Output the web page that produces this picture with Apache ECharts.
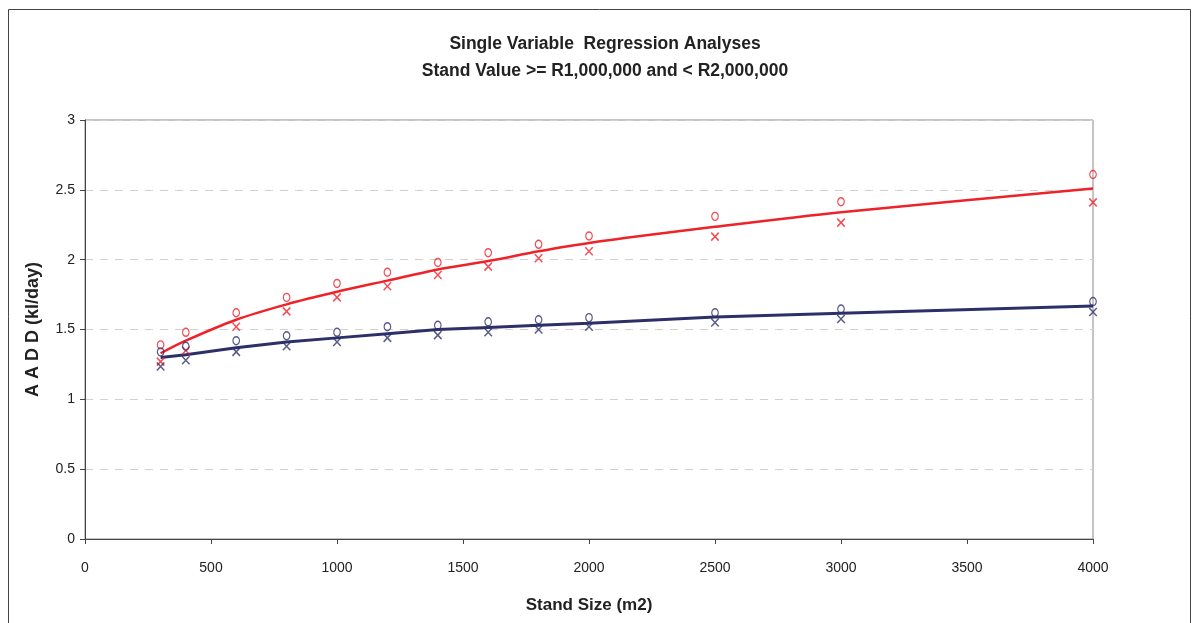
<!DOCTYPE html>
<html>
<head>
<meta charset="utf-8">
<script src="https://cdn.jsdelivr.net/npm/echarts@6/dist/echarts.min.js"></script>
<style>
html,body{margin:0;padding:0;background:#fff;}
#c{width:1196px;height:623px;}
</style>
</head>
<body>
<div id="c"></div>
<script>
// Data
var standSize = [300, 400, 600, 800, 1000, 1200, 1400, 1600, 1800, 2000, 2500, 3000, 4000];
var redO   = [1.39, 1.48, 1.62, 1.73, 1.83, 1.91, 1.98, 2.05, 2.11, 2.17, 2.31, 2.415, 2.61];
var redX   = [1.27, 1.35, 1.52, 1.63, 1.73, 1.81, 1.89, 1.95, 2.01, 2.06, 2.165, 2.265, 2.41];
var redFit = [1.33, 1.42, 1.57, 1.68, 1.77, 1.85, 1.93, 1.99, 2.06, 2.12, 2.235, 2.34, 2.51];
var navyO  = [1.34, 1.38, 1.42, 1.455, 1.48, 1.52, 1.53, 1.555, 1.57, 1.585, 1.62, 1.647, 1.70];
var navyX  = [1.235, 1.28, 1.34, 1.38, 1.41, 1.44, 1.46, 1.48, 1.50, 1.52, 1.55, 1.575, 1.625];
var navyFit= [1.30, 1.32, 1.37, 1.41, 1.44, 1.47, 1.50, 1.515, 1.53, 1.545, 1.59, 1.616, 1.668];
var xTicks = [0, 500, 1000, 1500, 2000, 2500, 3000, 3500, 4000];
var yTicks = [0, 0.5, 1, 1.5, 2, 2.5, 3];

var RED = '#ee2229';
var NAVY = '#2d3068';
var FONT = '"Liberation Sans", Arial, sans-serif';

function pairs(xs, ys){ return xs.map(function(x,i){ return [x, ys[i]]; }); }

var crossPath = 'path://M0,0L10,10M10,0L0,10';
var ringPath = 'path://M5,0A5,5 0 1 1 5,10A5,5 0 1 1 5,0Z';

var chart = echarts.init(document.getElementById('c'), null, {renderer:'canvas'});
chart.setOption({
  backgroundColor: '#fff',
  animation: false,
  title: {
    text: 'Single Variable  Regression Analyses\nStand Value >= R1,000,000 and < R2,000,000',
    left: 600, top: 26, textAlign: 'center',
    textStyle: {fontFamily: FONT, fontSize: 17.5, fontWeight: 'bold', color: '#222', lineHeight: 27}
  },
  graphic: [{
    type: 'rect', silent: true, z: 0,
    shape: {x: 8.5, y: 9.5, width: 1182, height: 700},
    style: {fill: 'none', stroke: '#444', lineWidth: 1}
  }],
  grid: {left: 85, right: 103, top: 120, bottom: 84, show: true, borderColor: '#8a8a8a', borderWidth: 1},
  xAxis: {
    type: 'value', min: 0, max: 4000, interval: 500,
    name: 'Stand Size (m2)', nameLocation: 'middle', nameGap: 58,
    nameTextStyle: {fontFamily: FONT, fontSize: 17, fontWeight: 'bold', color: '#222'},
    axisLine: {lineStyle: {color: '#444', width: 1}},
    axisTick: {show: true, length: 5, lineStyle: {color: '#444'}},
    axisLabel: {fontFamily: FONT, fontSize: 14, color: '#222', margin: 22,
      formatter: function(v){ return String(v); }},
    splitLine: {show: false}
  },
  yAxis: {
    type: 'value', min: 0, max: 3, interval: 0.5,
    name: 'A A D D (kl/day)', nameLocation: 'middle', nameGap: 43, nameRotate: 90,
    nameTextStyle: {fontFamily: FONT, fontSize: 18, fontWeight: 'bold', color: '#222'},
    axisLine: {show: true, lineStyle: {color: '#444', width: 1}},
    axisTick: {show: true, length: 5, lineStyle: {color: '#444'}},
    axisLabel: {fontFamily: FONT, fontSize: 14, color: '#222', margin: 10},
    splitLine: {show: true, lineStyle: {color: '#d4d0cc', type: [8, 7], width: 1}}
  },
  series: [
    {type: 'line', data: pairs(standSize, redFit), smooth: 0.3, symbol: 'none',
     lineStyle: {color: RED, width: 2.5}, z: 2},
    {type: 'line', data: pairs(standSize, navyFit), smooth: false, symbol: 'none',
     lineStyle: {color: NAVY, width: 3}, z: 2},
    {type: 'scatter', data: pairs(standSize, redO), symbol: ringPath, symbolSize: [6.5, 8],
     itemStyle: {color: 'rgba(0,0,0,0)', borderColor: RED, borderWidth: 1.3}, z: 3},
    {type: 'scatter', data: pairs(standSize, redX), symbol: crossPath, symbolSize: [7.5, 8],
     itemStyle: {color: 'rgba(0,0,0,0)', borderColor: RED, borderWidth: 1.5}, z: 3},
    {type: 'scatter', data: pairs(standSize, navyO), symbol: ringPath, symbolSize: [6.5, 8],
     itemStyle: {color: 'rgba(0,0,0,0)', borderColor: NAVY, borderWidth: 1.3}, z: 3},
    {type: 'scatter', data: pairs(standSize, navyX), symbol: crossPath, symbolSize: [7.5, 8],
     itemStyle: {color: 'rgba(0,0,0,0)', borderColor: NAVY, borderWidth: 1.5}, z: 3}
  ]
});
</script>
</body>
</html>
